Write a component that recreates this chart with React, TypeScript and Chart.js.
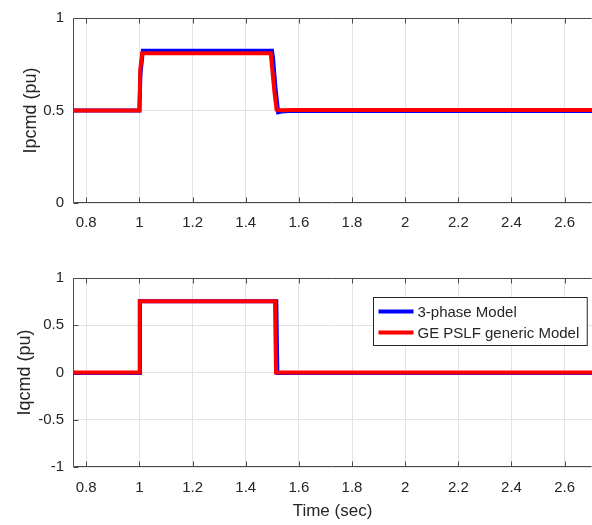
import React, { useEffect, useRef } from "react";
import { Chart, registerables } from "chart.js";

Chart.register(...registerables);

// ---------- data ----------
const xTickValues = [0.8, 1, 1.2, 1.4, 1.6, 1.8, 2, 2.2, 2.4, 2.6];
const topYTicks = [0, 0.5, 1];
const bottomYTicks = [-1, -0.5, 0, 0.5, 1];

const seriesLabels = ["3-phase Model", "GE PSLF generic Model"];

// Ipcmd – 3-phase model
const ipTime3ph = [0.75, 1.0, 1.004, 1.013, 1.499, 1.503, 1.512, 1.522, 1.535, 1.56, 2.703];
const ipVal3ph = [0.5, 0.5, 0.7, 0.823, 0.823, 0.78, 0.62, 0.49, 0.494, 0.497, 0.497];
// Ipcmd – GE PSLF generic model
const ipTimeGe = [0.75, 1.0, 1.003, 1.01, 1.494, 1.5, 1.508, 1.516, 1.53, 1.58, 2.703];
const ipValGe = [0.5, 0.5, 0.72, 0.81, 0.81, 0.72, 0.6, 0.505, 0.502, 0.503, 0.503];

// Iqcmd – 3-phase model
const iqTime3ph = [0.75, 1.0, 1.002, 1.515, 1.519, 2.703];
const iqVal3ph = [-0.006, -0.006, 0.755, 0.755, -0.006, -0.006];
// Iqcmd – GE PSLF generic model
const iqTimeGe = [0.75, 0.999, 1.001, 1.51, 1.514, 2.703];
const iqValGe = [0, 0, 0.755, 0.755, 0, 0];

const X_MIN = 0.75;
const X_MAX = 2.703;

// ---------- styles ----------
const FONT = "'Liberation Sans', Arial, Helvetica, sans-serif";
const TEXT_COLOR = "#262626";
const AXIS_COLOR = "#4a4a4a";
const GRID_COLOR = "#e3e3e3";
const BLUE = "#0000ff";
const RED = "#ff0000";

const fmt = (v: number) => String(Math.round(v * 100) / 100);

const framePlugin = {
  id: "frame",
  beforeDatasetsDraw(chart: any) {
    const { ctx, chartArea: a, scales } = chart;
    ctx.save();
    ctx.strokeStyle = AXIS_COLOR;
    ctx.lineWidth = 1;
    const l = Math.round(a.left) + 0.5;
    const t = Math.round(a.top) + 0.5;
    const b = Math.round(a.bottom) - 0.5;
    const r = Math.round(a.right) - 0.5;
    ctx.beginPath();
    ctx.moveTo(l, b);
    ctx.lineTo(l, t);
    ctx.lineTo(r, t);
    ctx.moveTo(l, b);
    ctx.lineTo(r, b);
    // inward ticks
    for (const v of xTickValues) {
      const px = Math.round(scales.x.getPixelForValue(v)) + 0.5;
      ctx.moveTo(px, b);
      ctx.lineTo(px, b - 5);
      ctx.moveTo(px, t);
      ctx.lineTo(px, t + 5);
    }
    const yt: number[] = chart.options.plugins.frame.yTicks;
    for (const v of yt) {
      const py = Math.round(scales.y.getPixelForValue(v)) + 0.5;
      ctx.moveTo(l, py);
      ctx.lineTo(l + 5, py);
    }
    ctx.stroke();
    ctx.restore();
  },
};

const legendPlugin = {
  id: "boxLegend",
  afterDraw(chart: any) {
    const opts = chart.options.plugins.boxLegend;
    if (!opts || !opts.show) return;
    const { ctx, chartArea: a } = chart;
    ctx.save();
    ctx.font = `15px ${FONT}`;
    const labels = chart.data.datasets.map((d: any) => d.label);
    const colors = chart.data.datasets.map((d: any) => d.borderColor);
    const textW = Math.max(...labels.map((s: string) => ctx.measureText(s).width));
    const lineLen = 35;
    const w = 5 + lineLen + 4 + textW + 8;
    const h = 48;
    const right = a.right - 5;
    const x0 = Math.round(right - w) + 0.5;
    const y0 = Math.round(a.top + 19) + 0.5;
    ctx.fillStyle = "#ffffff";
    ctx.fillRect(x0, y0, w, h);
    ctx.strokeStyle = "#262626";
    ctx.lineWidth = 1;
    ctx.strokeRect(x0, y0, w, h);
    labels.forEach((lab: string, i: number) => {
      const cy = y0 + 14 + i * 21;
      ctx.strokeStyle = colors[i];
      ctx.lineWidth = 4;
      ctx.beginPath();
      ctx.moveTo(x0 + 5, cy);
      ctx.lineTo(x0 + 5 + lineLen, cy);
      ctx.stroke();
      ctx.fillStyle = TEXT_COLOR;
      ctx.textBaseline = "middle";
      ctx.textAlign = "left";
      ctx.fillText(lab, x0 + 5 + lineLen + 4, cy + 1);
    });
    ctx.restore();
  },
};

function toPoints(xs: number[], ys: number[]) {
  return xs.map((x, i) => ({ x, y: ys[i] }));
}

function makeConfig(
  kind: "top" | "bottom",
  yLabel: string,
  yMin: number,
  yMax: number,
  yTicks: number[],
  d1: { x: number; y: number }[],
  d2: { x: number; y: number }[]
): any {
  const isBottom = kind === "bottom";
  return {
    type: "line",
    data: {
      datasets: [
        {
          label: seriesLabels[0],
          data: d1,
          borderColor: BLUE,
          backgroundColor: BLUE,
          borderWidth: 4,
          pointRadius: 0,
          tension: 0,
          order: 1,
        },
        {
          label: seriesLabels[1],
          data: d2,
          borderColor: RED,
          backgroundColor: RED,
          borderWidth: 4,
          pointRadius: 0,
          tension: 0,
          order: 0,
        },
      ],
    },
    options: {
      responsive: false,
      animation: false,
      devicePixelRatio: 1,
      layout: { padding: { top: isBottom ? 17 : 13, left: 0, right: 0, bottom: 0 } },
      plugins: {
        legend: { display: false },
        tooltip: { enabled: false },
        frame: { yTicks },
        boxLegend: { show: isBottom },
      },
      scales: {
        x: {
          type: "linear",
          min: X_MIN,
          max: X_MAX,
          afterBuildTicks: (s: any) => {
            s.ticks = xTickValues.map((v) => ({ value: v }));
          },
          afterFit: (s: any) => {
            s.height = isBottom ? 58 : 57;
          },
          grid: { color: GRID_COLOR, drawTicks: false, lineWidth: 1 },
          border: { display: false },
          ticks: {
            padding: isBottom ? 12 : 11,
            color: TEXT_COLOR,
            font: { family: FONT, size: 15 },
            maxRotation: 0,
            autoSkip: false,
            callback: (v: any) => fmt(Number(v)),
          },
          title: {
            display: isBottom,
            text: "Time (sec)",
            color: TEXT_COLOR,
            font: { family: FONT, size: 17 },
            padding: { top: 0, bottom: 3 },
          },
        },
        y: {
          type: "linear",
          min: yMin,
          max: yMax,
          afterBuildTicks: (s: any) => {
            s.ticks = yTicks.map((v) => ({ value: v }));
          },
          afterFit: (s: any) => {
            s.width = 73;
          },
          grid: { color: GRID_COLOR, drawTicks: false, lineWidth: 1 },
          border: { display: false },
          ticks: {
            padding: 9,
            color: TEXT_COLOR,
            font: { family: FONT, size: 15 },
            autoSkip: false,
            callback: (v: any) => fmt(Number(v)),
          },
          title: {
            display: true,
            text: yLabel,
            color: TEXT_COLOR,
            font: { family: FONT, size: 18 },
            padding: { top: isBottom ? 14 : 20, bottom: 0 },
          },
        },
      },
    },
    plugins: [framePlugin, legendPlugin],
  };
}

export default function App() {
  const topRef = useRef<HTMLCanvasElement>(null);
  const botRef = useRef<HTMLCanvasElement>(null);

  useEffect(() => {
    const c1 = new Chart(
      topRef.current as HTMLCanvasElement,
      makeConfig(
        "top",
        "Ipcmd (pu)",
        0,
        1,
        topYTicks,
        toPoints(ipTime3ph, ipVal3ph),
        toPoints(ipTimeGe, ipValGe)
      )
    );
    const c2 = new Chart(
      botRef.current as HTMLCanvasElement,
      makeConfig(
        "bottom",
        "Iqcmd (pu)",
        -1,
        1,
        bottomYTicks,
        toPoints(iqTime3ph, iqVal3ph),
        toPoints(iqTimeGe, iqValGe)
      )
    );
    return () => {
      c1.destroy();
      c2.destroy();
    };
  }, []);

  return (
    <div
      style={{
        position: "absolute",
        left: 0,
        top: 0,
        width: 592,
        height: 525,
        background: "#ffffff",
        overflow: "hidden",
      }}
    >
      <canvas
        ref={topRef}
        width={592}
        height={260}
        style={{ position: "absolute", left: 0, top: 0, width: 592, height: 260 }}
      />
      <canvas
        ref={botRef}
        width={592}
        height={265}
        style={{ position: "absolute", left: 0, top: 260, width: 592, height: 265 }}
      />
    </div>
  );
}
